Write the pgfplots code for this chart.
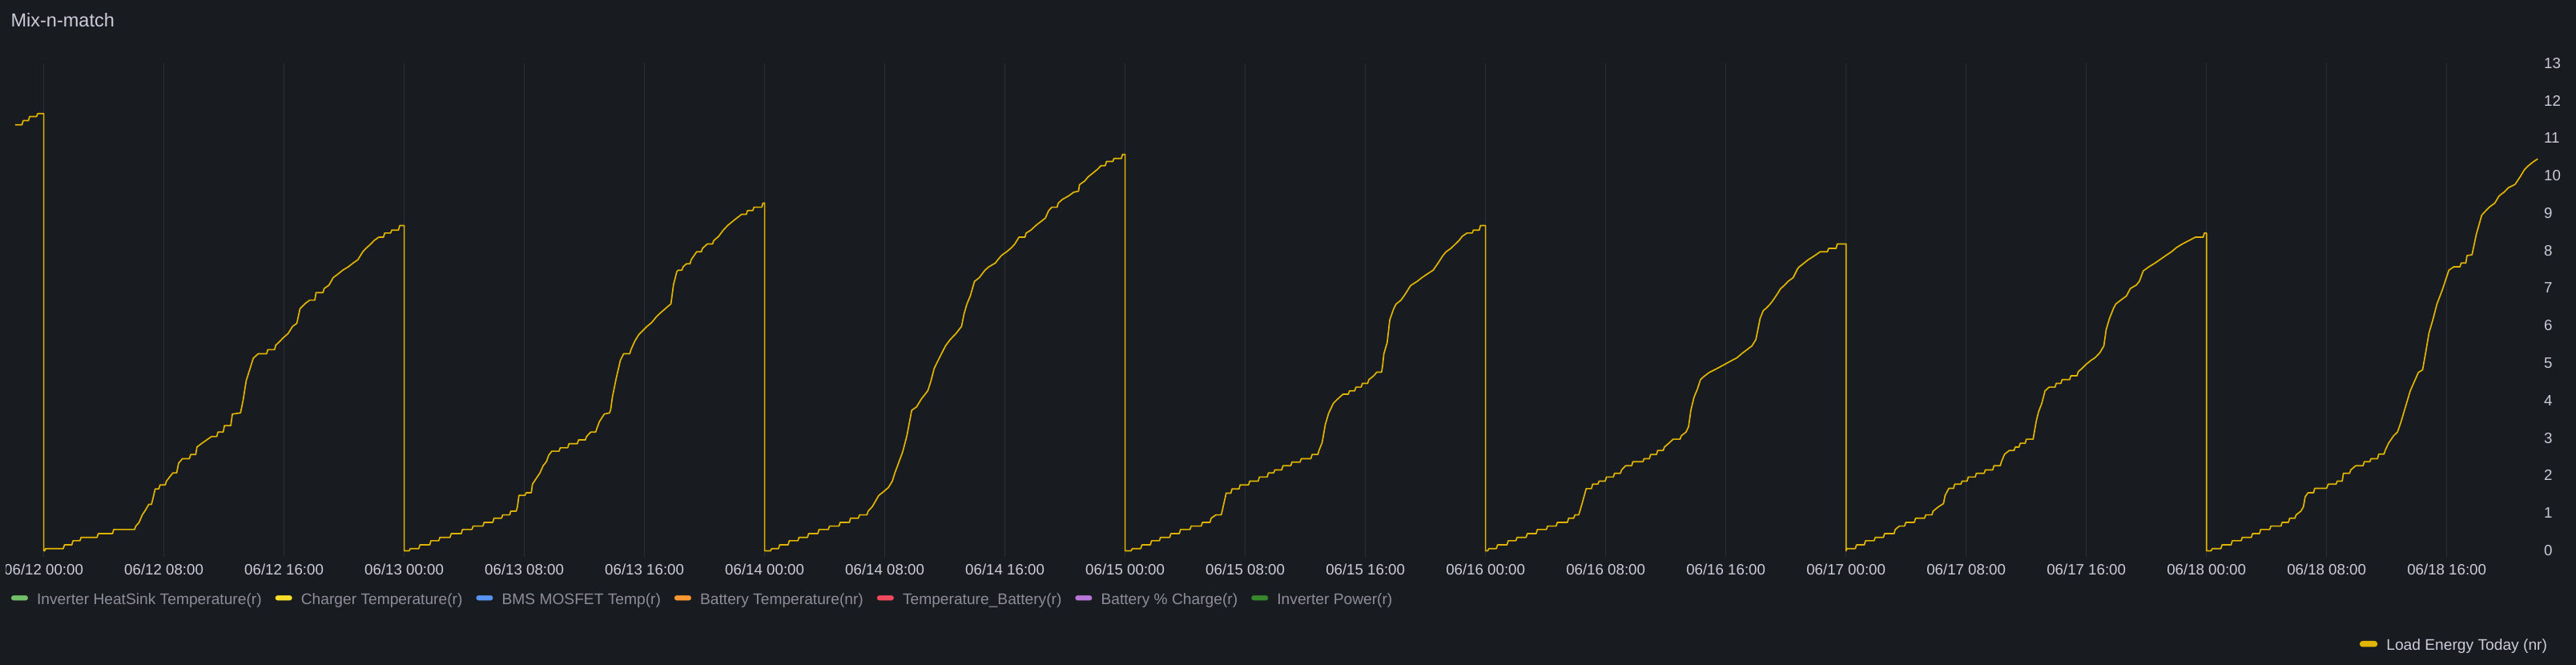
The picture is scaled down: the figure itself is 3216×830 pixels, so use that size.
\documentclass[border=0pt]{standalone}
\usepackage{fontspec}
\setmainfont{Liberation Sans}
\usepackage{pgfplots}
\pgfplotsset{compat=1.18}
\definecolor{bgcol}{HTML}{181B1F}
\definecolor{gridcol}{HTML}{2B2E33}
\definecolor{tickcol}{HTML}{CCCCDC}
\definecolor{hidcol}{HTML}{8D8E9A}
\definecolor{loadcol}{HTML}{E0B400}
\definecolor{cA}{HTML}{73BF69}
\definecolor{cB}{HTML}{FADE2A}
\definecolor{cC}{HTML}{5794F2}
\definecolor{cD}{HTML}{FF9830}
\definecolor{cE}{HTML}{F2495C}
\definecolor{cF}{HTML}{B877D9}
\definecolor{cG}{HTML}{37872D}
\newcommand{\tickfont}{\fontsize{18.7pt}{22pt}\selectfont}
\newcommand{\legfont}{\fontsize{19.2pt}{23pt}\selectfont}
\begin{document}
\begin{tikzpicture}
\clip (0pt,0pt) rectangle (3216pt,830pt);
\fill[bgcol] (0pt,0pt) rectangle (3216pt,830pt);
\node[anchor=base west, inner sep=0pt, text=tickcol, font=\fontsize{23.5pt}{28pt}\selectfont] at (13.4pt,796.7pt) {Mix-n-match};
\pgfplotsset{
  swatch/.style={legend image code/.code={\fill[##1, rounded corners=2.8pt] (0pt,-0.9pt) rectangle (20.5pt,4.9pt);}},
}
\begin{scope}
\clip (7pt,0pt) rectangle (3216pt,830pt);
% hidden-series legend
\begin{axis}[
  at={(19pt,135pt)}, anchor=south west,
  scale only axis, width=3150pt, height=615.5pt,
  xmin=0, xmax=1, ymin=0, ymax=1,
  hide axis,
  legend columns=7,
  legend style={at={(axis description cs:-0.00159,-0.0866)}, anchor=west,
    draw=none, fill=none, inner sep=0pt, outer sep=0pt,
    font=\legfont, text=hidcol,
    nodes={inner sep=0pt},
    /tikz/every odd column/.append style={column sep=11.2pt},
    /tikz/every even column/.append style={column sep=17pt}},
  legend cell align=left,
]
\addlegendimage{swatch, color=cA}
\addlegendentry{Inverter HeatSink Temperature(r)}
\addlegendimage{swatch, color=cB}
\addlegendentry{Charger Temperature(r)}
\addlegendimage{swatch, color=cC}
\addlegendentry{BMS MOSFET Temp(r)}
\addlegendimage{swatch, color=cD}
\addlegendentry{Battery Temperature(nr)}
\addlegendimage{swatch, color=cE}
\addlegendentry{Temperature\_Battery(r)}
\addlegendimage{swatch, color=cF}
\addlegendentry{Battery \% Charge(r)}
\addlegendimage{swatch, color=cG}
\addlegendentry{Inverter Power(r)}
\end{axis}
% main axis
\begin{axis}[
  at={(19pt,135pt)}, anchor=south west,
  scale only axis, width=3150pt, height=615.5pt,
  xmin=-1.9, xmax=166.1, ymin=-0.16, ymax=13,
  axis line style={draw=none},
  major tick length=0pt,
  xtick={0,8,...,160},
  xticklabels={06/12 00:00,06/12 08:00,06/12 16:00,06/13 00:00,06/13 08:00,06/13 16:00,06/14 00:00,06/14 08:00,06/14 16:00,06/15 00:00,06/15 08:00,06/15 16:00,06/16 00:00,06/16 08:00,06/16 16:00,06/17 00:00,06/17 08:00,06/17 16:00,06/18 00:00,06/18 08:00,06/18 16:00},
  ytick={0,1,2,3,4,5,6,7,8,9,10,11,12,13},
  yticklabels={0,1,2,3,4,5,6,7,8,9,10,11,12,13},
  ytick pos=right, yticklabel pos=right,
  xmajorgrids, grid style={gridcol, line width=1pt},
  xticklabel style={anchor=base, yshift=-22.5pt, inner sep=0pt, font=\tickfont, text=tickcol},
  yticklabel style={anchor=base west, xshift=7pt, yshift=-5.8pt, inner sep=0pt, font=\tickfont, text=tickcol},
  legend style={at={(axis description cs:1.00349,-0.1799)}, anchor=east,
    draw=none, fill=none, inner sep=0pt, outer sep=0pt,
    font=\legfont, text=tickcol, nodes={inner sep=0pt},
    /tikz/every odd column/.append style={column sep=11.2pt}},
  legend cell align=left,
]
\addplot[color=loadcol, line width=1.7pt, line join=round, swatch] coordinates {
(-1.9,11.37) (-1.45,11.37) (-1.37,11.48) (-1.02,11.48) (-0.94,11.59) (-0.48,11.59) (-0.40,11.67) (0,11.67) (0,0) (0.06,0) (0.13,0.06) (1.30,0.06) (1.38,0.16) (1.87,0.16) (1.95,0.27) (2.41,0.27) (2.49,0.36) (3.55,0.36) (3.63,0.46) (4.58,0.46) (4.66,0.57) (6.05,0.57) (6.13,0.66) (6.35,0.76) (6.56,0.96) (6.78,1.09) (6.99,1.24) (7.17,1.24) (7.25,1.36) (7.42,1.65) (7.66,1.65) (7.74,1.76) (8.09,1.76) (8.17,1.86) (8.38,1.97) (8.60,2.08) (8.85,2.08) (8.98,2.34) (9.24,2.46) (9.70,2.46) (9.78,2.57) (10.12,2.57) (10.20,2.77) (10.53,2.87) (10.85,2.96) (11.17,3.05) (11.52,3.05) (11.60,3.17) (11.95,3.17) (12.03,3.34) (12.45,3.34) (12.56,3.65) (13.10,3.68) (13.27,4.01) (13.48,4.54) (13.74,4.87) (13.95,5.14) (14.28,5.26) (14.84,5.26) (14.92,5.37) (15.37,5.37) (15.45,5.49) (15.67,5.57) (15.93,5.68) (16.27,5.80) (16.57,5.99) (16.85,6.07) (17.06,6.46) (17.38,6.59) (17.70,6.69) (18.05,6.69) (18.13,6.89) (18.59,6.89) (18.67,7.00) (18.99,7.09) (19.27,7.29) (19.57,7.38) (19.91,7.49) (20.28,7.58) (20.60,7.68) (20.92,7.77) (21.24,7.98) (21.45,8.07) (21.78,8.19) (21.99,8.28) (22.31,8.37) (22.62,8.37) (22.70,8.48) (23.09,8.48) (23.17,8.56) (23.62,8.56) (23.70,8.68) (24,8.68) (24,0)
(24.33,0) (24.41,0.06) (24.97,0.06) (25.05,0.16) (25.70,0.16) (25.78,0.27) (26.30,0.27) (26.38,0.36) (27.05,0.36) (27.13,0.46) (27.80,0.46) (27.88,0.57) (28.51,0.57) (28.59,0.66) (29.24,0.66) (29.32,0.76) (29.90,0.76) (29.98,0.87) (30.48,0.87) (30.56,0.96) (31.02,0.96) (31.10,1.06) (31.46,1.06) (31.54,1.18) (31.64,1.48) (32.04,1.48) (32.12,1.55) (32.46,1.55) (32.54,1.78) (32.82,1.95) (33.04,2.08) (33.25,2.27) (33.47,2.38) (33.62,2.55) (33.83,2.66) (34.31,2.66) (34.39,2.75) (34.89,2.75) (34.97,2.86) (35.53,2.86) (35.61,2.96) (36.06,2.96) (36.14,3.05) (36.42,3.17) (36.75,3.17) (36.83,3.27) (37.00,3.45) (37.32,3.65) (37.67,3.68) (37.75,3.77) (37.86,4.10) (38.12,4.61) (38.39,5.08) (38.61,5.26) (39.02,5.26) (39.10,5.37) (39.36,5.60) (39.62,5.77) (39.89,5.88) (40.17,5.99) (40.47,6.09) (40.82,6.26) (41.12,6.37) (41.46,6.49) (41.76,6.59) (41.93,7.10) (42.15,7.45) (42.25,7.49) (42.49,7.49) (42.57,7.58) (42.79,7.66) (43.03,7.66) (43.11,7.77) (43.47,7.98) (43.78,7.98) (43.86,8.07) (44.18,8.19) (44.53,8.19) (44.61,8.28) (44.93,8.39) (45.25,8.56) (45.53,8.68) (45.83,8.78) (46.11,8.87) (46.47,8.98) (46.78,8.98) (46.86,9.08) (47.21,9.08) (47.29,9.17) (47.81,9.17) (47.89,9.28) (48,9.28) (48,0)
(48.39,0) (48.47,0.06) (48.92,0.06) (49.00,0.16) (49.56,0.16) (49.64,0.27) (50.21,0.27) (50.29,0.36) (50.85,0.36) (50.93,0.46) (51.54,0.46) (51.62,0.57) (52.24,0.57) (52.32,0.66) (52.95,0.66) (53.03,0.76) (53.64,0.76) (53.72,0.87) (54.24,0.87) (54.32,0.96) (54.81,0.96) (54.89,1.06) (55.17,1.18) (55.60,1.48) (55.86,1.56) (56.24,1.69) (56.50,1.86) (56.67,2.08) (56.93,2.36) (57.19,2.64) (57.47,3.07) (57.79,3.75) (58.11,3.84) (58.43,4.05) (58.86,4.27) (59.07,4.53) (59.29,4.87) (59.61,5.13) (60.04,5.47) (60.36,5.64) (60.74,5.80) (61.11,5.99) (61.28,6.33) (61.47,6.59) (61.69,6.80) (61.97,7.19) (62.29,7.29) (62.67,7.49) (62.93,7.58) (63.36,7.68) (63.57,7.79) (63.79,7.89) (64.11,7.98) (64.43,8.09) (64.66,8.19) (64.93,8.37) (65.33,8.37) (65.41,8.48) (65.73,8.56) (66.05,8.68) (66.37,8.78) (66.69,8.88) (66.91,9.08) (67.12,9.17) (67.47,9.17) (67.55,9.28) (67.83,9.38) (68.23,9.47) (68.58,9.57) (68.90,9.60) (68.96,9.77) (69.31,9.87) (69.54,9.98) (69.82,10.07) (70.16,10.18) (70.40,10.28) (70.68,10.28) (70.76,10.39) (71.18,10.39) (71.26,10.47) (71.75,10.47) (71.83,10.58) (72,10.58) (72,0)
(72.40,0) (72.48,0.06) (73.04,0.06) (73.12,0.16) (73.68,0.16) (73.76,0.27) (74.28,0.27) (74.36,0.36) (74.97,0.36) (75.05,0.46) (75.61,0.46) (75.69,0.57) (76.32,0.57) (76.40,0.66) (77.07,0.66) (77.15,0.76) (77.65,0.76) (77.73,0.87) (78.05,0.96) (78.40,0.96) (78.48,1.09) (78.73,1.54) (79.04,1.54) (79.12,1.65) (79.58,1.65) (79.66,1.76) (80.22,1.76) (80.30,1.86) (80.86,1.86) (80.94,1.97) (81.46,1.97) (81.54,2.08) (81.89,2.08) (81.97,2.16) (82.43,2.16) (82.51,2.27) (83.03,2.27) (83.11,2.37) (83.65,2.37) (83.73,2.46) (84.37,2.46) (84.45,2.57) (84.83,2.57) (84.91,2.68) (85.12,2.89) (85.33,3.37) (85.55,3.67) (85.87,3.94) (86.15,4.05) (86.51,4.18) (86.86,4.18) (86.94,4.27) (87.29,4.27) (87.37,4.37) (87.72,4.37) (87.80,4.47) (88.15,4.47) (88.23,4.57) (88.55,4.67) (88.76,4.77) (89.08,4.77) (89.15,4.96) (89.23,5.26) (89.45,5.56) (89.62,6.16) (89.88,6.46) (90.05,6.59) (90.37,6.69) (90.65,6.85) (91.01,7.08) (91.44,7.19) (91.76,7.29) (92.09,7.38) (92.51,7.49) (92.84,7.68) (93.16,7.88) (93.37,7.98) (93.69,8.07) (93.97,8.18) (94.23,8.28) (94.44,8.39) (94.76,8.48) (95.11,8.48) (95.19,8.56) (95.58,8.56) (95.66,8.68) (96,8.68) (96,0)
(96.14,0) (96.22,0.06) (96.72,0.06) (96.80,0.16) (97.43,0.16) (97.51,0.27) (98.02,0.27) (98.10,0.36) (98.70,0.36) (98.78,0.46) (99.37,0.46) (99.45,0.57) (100.05,0.57) (100.13,0.66) (100.70,0.66) (100.78,0.76) (101.45,0.76) (101.53,0.87) (101.87,0.87) (101.95,0.96) (102.20,0.96) (102.28,1.06) (102.49,1.35) (102.70,1.66) (103.05,1.66) (103.13,1.78) (103.48,1.78) (103.56,1.86) (103.97,1.86) (104.05,1.97) (104.51,1.97) (104.59,2.07) (104.98,2.07) (105.06,2.16) (105.32,2.27) (105.73,2.27) (105.81,2.38) (106.48,2.38) (106.56,2.46) (106.91,2.46) (106.99,2.57) (107.38,2.57) (107.46,2.68) (107.83,2.68) (107.91,2.77) (108.17,2.86) (108.49,2.98) (108.95,2.98) (109.03,3.07) (109.35,3.17) (109.52,3.32) (109.67,3.75) (109.88,4.10) (110.10,4.31) (110.31,4.57) (110.53,4.65) (110.89,4.76) (111.34,4.85) (111.85,4.96) (112.30,5.06) (112.73,5.15) (113.05,5.26) (113.38,5.36) (113.74,5.47) (114.00,5.64) (114.28,6.20) (114.49,6.41) (114.70,6.48) (114.96,6.59) (115.20,6.72) (115.45,6.87) (115.63,6.99) (115.88,7.08) (116.14,7.19) (116.48,7.29) (116.78,7.53) (116.89,7.58) (117.21,7.68) (117.49,7.77) (117.92,7.88) (118.28,7.98) (118.76,7.98) (118.84,8.07) (119.34,8.07) (119.42,8.19) (120,8.19) (120,0)
(120.06,0.06) (120.62,0.06) (120.70,0.16) (121.22,0.16) (121.30,0.27) (121.87,0.27) (121.95,0.36) (122.49,0.36) (122.57,0.46) (123.20,0.46) (123.28,0.57) (123.55,0.66) (123.90,0.66) (123.98,0.76) (124.55,0.76) (124.63,0.87) (125.23,0.87) (125.31,0.96) (125.72,0.96) (125.80,1.06) (126.17,1.18) (126.49,1.26) (126.60,1.48) (126.85,1.67) (127.16,1.67) (127.24,1.78) (127.65,1.78) (127.73,1.86) (128.06,1.86) (128.14,1.97) (128.60,1.97) (128.68,2.07) (129.20,2.07) (129.28,2.16) (129.77,2.16) (129.85,2.27) (130.27,2.27) (130.35,2.38) (130.56,2.58) (130.88,2.68) (131.19,2.68) (131.27,2.77) (131.52,2.77) (131.60,2.87) (131.93,2.87) (132.01,2.98) (132.46,2.98) (132.67,3.47) (132.82,3.71) (133.04,3.94) (133.25,4.27) (133.53,4.37) (133.92,4.37) (134.00,4.47) (134.31,4.47) (134.39,4.57) (134.89,4.57) (134.97,4.67) (135.38,4.67) (135.46,4.78) (135.72,4.87) (135.97,4.97) (136.30,5.08) (136.57,5.15) (136.89,5.28) (137.17,5.47) (137.32,5.90) (137.54,6.20) (137.82,6.48) (137.97,6.59) (138.29,6.69) (138.67,6.80) (138.93,7.00) (139.32,7.09) (139.53,7.19) (139.79,7.47) (140.17,7.58) (140.58,7.68) (140.90,7.77) (141.33,7.89) (141.67,7.98) (141.99,8.09) (142.40,8.19) (142.83,8.28) (143.26,8.37) (143.78,8.37) (143.86,8.48) (144,8.48) (144,0)
(144.31,0) (144.39,0.06) (144.96,0.06) (145.04,0.16) (145.64,0.16) (145.72,0.27) (146.31,0.27) (146.39,0.36) (146.99,0.36) (147.07,0.46) (147.53,0.46) (147.61,0.57) (148.21,0.57) (148.29,0.66) (148.96,0.66) (149.04,0.76) (149.46,0.76) (149.54,0.87) (149.89,0.87) (149.97,0.96) (150.29,1.06) (150.46,1.18) (150.57,1.44) (150.76,1.55) (151.13,1.55) (151.21,1.67) (152.00,1.67) (152.11,1.78) (152.63,1.78) (152.71,1.86) (153.04,1.86) (153.12,2.07) (153.53,2.07) (153.61,2.16) (153.93,2.27) (154.43,2.27) (154.51,2.38) (154.88,2.38) (154.96,2.46) (155.39,2.46) (155.47,2.58) (155.82,2.58) (155.90,2.68) (156.12,2.87) (156.46,3.07) (156.72,3.17) (156.93,3.41) (157.25,3.84) (157.57,4.27) (157.90,4.57) (158.11,4.76) (158.39,4.83) (158.60,5.30) (158.82,5.82) (159.07,6.16) (159.35,6.59) (159.72,6.98) (160.14,7.49) (160.47,7.58) (160.88,7.58) (160.96,7.68) (161.27,7.68) (161.35,7.88) (161.68,7.90) (161.97,8.45) (162.33,8.96) (162.61,9.08) (162.86,9.18) (163.20,9.28) (163.48,9.47) (163.84,9.58) (164.10,9.69) (164.55,9.78) (164.90,9.99) (165.17,10.17) (165.44,10.28) (165.79,10.39) (166.06,10.46)
};
\addlegendentry{Load Energy Today (nr)}
\end{axis}
\end{scope}
\end{tikzpicture}
\end{document}
